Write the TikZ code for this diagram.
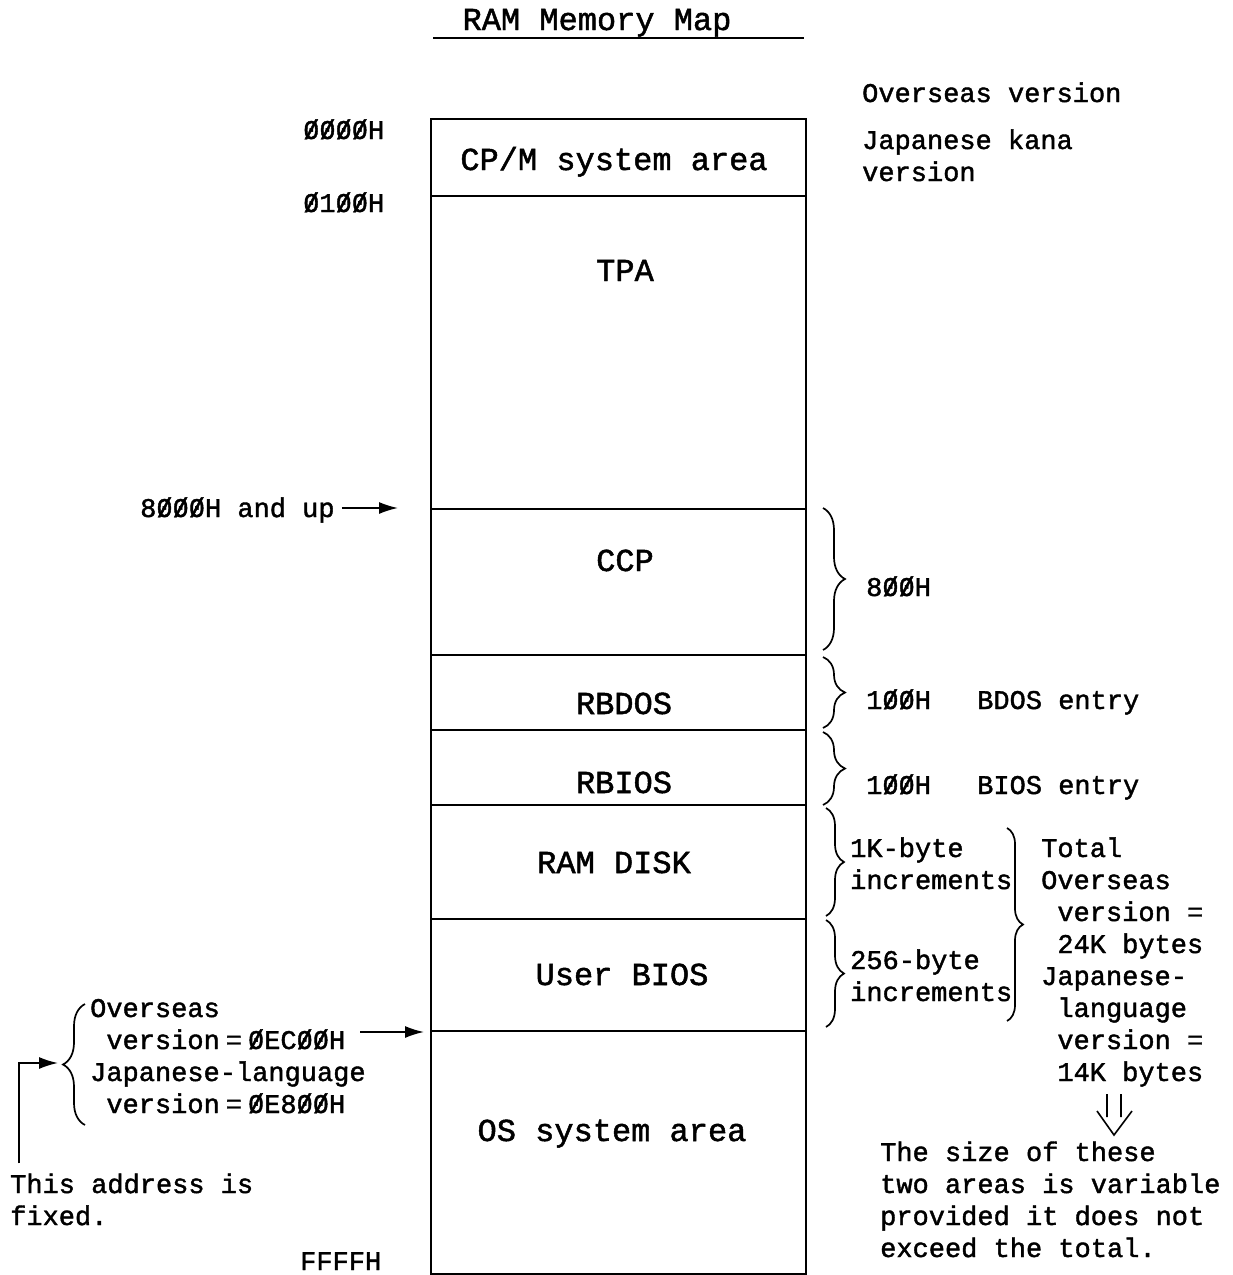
\documentclass[tikz,border=0pt]{standalone}
\usepackage{fontspec}
\setmainfont{Liberation Mono}[FakeBold=1.5]
\usetikzlibrary{decorations.pathreplacing,arrows.meta}
\newcommand\zr{\ooalign{0\cr\hidewidth/\hidewidth\cr}}
\newcommand\ind{\phantom{x}}
\newcommand\eqs{\kern6pt=\kern6pt}
\tikzset{
  sect/.style={draw, line width=2pt, minimum width=375pt, inner sep=0pt, anchor=north west},
  big/.style={font=\fontsize{32}{38}\selectfont, inner sep=0pt, anchor=base},
  small/.style={font=\fontsize{27}{32}\selectfont, inner sep=0pt, anchor=base west, align=left},
  brc/.style={decorate, decoration={brace, amplitude=#1}, line width=1.7pt},
  brc/.default=20pt,
  arr/.style={-{Latex[length=19pt,width=12pt]}, line width=1.7pt},
}
\begin{document}
\begin{tikzpicture}[x=1pt,y=-1pt]
\useasboundingbox (0,0) rectangle (1233,1275);
% title
\node[big] (title) at (597,30) {RAM Memory Map};
\draw[line width=1.8pt] (433,38) -- (804,38);
% memory sections
\node[sect, minimum height=77pt]  (cpm)   at (430,118)  {};
\node[sect, minimum height=313pt] (tpa)   at (430,195)  {};
\node[sect, minimum height=146pt] (ccp)   at (430,508)  {};
\node[sect, minimum height=75pt]  (rbdos) at (430,654)  {};
\node[sect, minimum height=75pt]  (rbios) at (430,729)  {};
\node[sect, minimum height=114pt] (ramd)  at (430,804)  {};
\node[sect, minimum height=112pt] (ubios) at (430,918)  {};
\node[sect, minimum height=243pt] (os)    at (430,1030) {};
% section labels
\node[big] (lcpm)   at (614,170)  {CP/M system area};
\node[big] (ltpa)   at (625,281)  {TPA};
\node[big] (lccp)   at (625,571)  {CCP};
\node[big] (lrbdos) at (624,714)  {RBDOS};
\node[big] (lrbios) at (624,793)  {RBIOS};
\node[big] (lramd)  at (614,873)  {RAM DISK};
\node[big] (lubios) at (622,985)  {User BIOS};
\node[big] (los)    at (612,1141) {OS system area};
% addresses
\node[small] (a0) at (303,139)  {\zr\zr\zr\zr H};
\node[small] (a1) at (303,212)  {\zr1\zr\zr H};
\node[small] (a8) at (140,517)  {8\zr\zr\zr H and up};
\node[small] (af) at (300,1270) {FFFFH};
\draw[arr] ([xshift=7pt]a8.east |- ccp.north) -- ([xshift=-32pt]ccp.north west);
% top right
\node[small] (ov) at (862,102) {Overseas version};
\node[small] (jk) at (862,181) {Japanese kana\\version};
% right braces
\draw[brc=22pt] (823,508) -- (823,650);
\draw[brc=22pt] (823,657) -- (823,728);
\draw[brc=22pt] (823,732) -- (823,805);
\draw[brc=18pt] (826,808) -- (826,916);
\draw[brc=18pt] (826,920) -- (826,1027);
\draw[brc=16pt] (1007,828) -- (1007,1021);
\node[small] (s8)  at (866,596) {8\zr\zr H};
\node[small] (s1a) at (866,709) {1\zr\zr H};
\node[small] (bd)  at (977,709) {BDOS entry};
\node[small] (s1b) at (866,794) {1\zr\zr H};
\node[small] (bi)  at (977,794) {BIOS entry};
\node[small] (k1)  at (850,889) {1K-byte\\increments};
\node[small] (k2)  at (850,1001) {256-byte\\increments};
\node[small] (tot) at (1041,1081) {Total\\Overseas\\\ind version =\\\ind 24K bytes\\Japanese-\\\ind language\\\ind version =\\\ind 14K bytes};
\node[small] (var) at (880,1257) {The size of these\\two areas is variable\\provided it does not\\exceed the total.};
% hollow double arrow
\draw[line width=1.6pt] (1107,1094) -- (1107,1117) (1121,1094) -- (1121,1117)
  (1097,1111) -- (1114,1135) -- (1132,1111);
% left side
\draw[brc=22pt] (85,1125) -- (85,1004);
\node[small] (lo) at (90,1113) {Overseas\\\ind version\eqs\zr EC\zr\zr H\\Japanese-language\\\ind version\eqs\zr E8\zr\zr H};
\node[small] (fx) at (10,1225) {This address is\\fixed.};
\coordinate (btip) at (58,1063);
\draw[arr] ([xshift=9pt,yshift=10pt]fx.north west) |- (btip);
\draw[arr] (360,1032) -- ([xshift=-6pt,yshift=-2pt]os.north west);
\end{tikzpicture}
\end{document}
